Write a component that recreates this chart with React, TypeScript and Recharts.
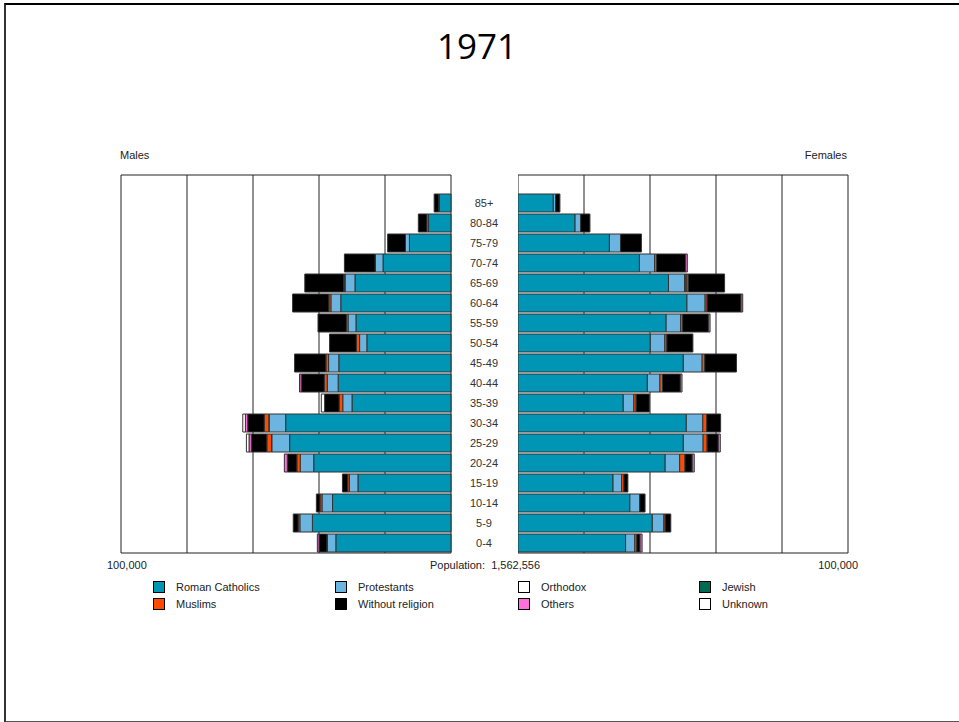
import React from 'react'
import { BarChart, Bar, XAxis, YAxis, CartesianGrid } from 'recharts'

const ages = ['85+', '80-84', '75-79', '70-74', '65-69', '60-64', '55-59', '50-54', '45-49', '40-44', '35-39', '30-34', '25-29', '20-24', '15-19', '10-14', '5-9', '0-4']

// values in thousands
const maleCatholics = [3.5, 6.8, 12.6, 20.6, 29.1, 33.4, 28.8, 25.5, 34.0, 34.2, 30.0, 50.1, 48.9, 41.6, 28.2, 35.9, 42.0, 34.9]
const maleProtestants = [0.2, 0.5, 1.2, 2.3, 3.0, 3.0, 2.4, 2.2, 3.1, 3.3, 2.8, 5.0, 5.4, 4.1, 2.6, 3.2, 3.8, 2.6]
const maleOrthodox = [0, 0, 0, 0, 0, 0, 0, 0, 0, 0, 0, 0.1, 0.1, 0, 0, 0, 0, 0]
const maleJewish = [0, 0, 0, 0, 0.3, 0, 0, 0, 0, 0, 0, 0, 0, 0, 0, 0, 0, 0]
const maleMuslims = [0, 0, 0, 0.1, 0.1, 0.6, 0.5, 1.0, 0.8, 0.9, 1.1, 1.4, 1.4, 1.0, 0.5, 0.6, 0.5, 0.1]
const maleWithout = [1.4, 2.6, 5.4, 9.3, 11.8, 11.0, 8.6, 8.1, 9.5, 7.0, 4.4, 5.0, 4.7, 2.9, 1.6, 1.1, 1.5, 2.4]
const maleOthers = [0, 0, 0, 0, 0, 0, 0, 0, 0, 0.5, 0, 0.7, 0.7, 0.9, 0, 0, 0, 0.5]
const maleUnknown = [0, 0, 0, 0, 0, 0, 0, 0, 0, 0, 1.0, 0.8, 0.8, 0, 0, 0, 0, 0]

const femaleCatholics = [10.7, 17.3, 27.7, 36.8, 45.6, 51.2, 44.9, 40.1, 50.1, 39.2, 31.9, 51.0, 50.1, 44.6, 28.8, 33.9, 40.7, 32.6]
const femaleProtestants = [0.7, 1.7, 3.4, 4.6, 4.9, 5.5, 4.4, 4.4, 5.7, 3.8, 3.2, 5.0, 6.0, 4.4, 2.6, 3.0, 3.5, 2.8]
const femaleOrthodox = [0, 0, 0, 0, 0, 0, 0, 0, 0, 0, 0, 0, 0, 0, 0, 0, 0, 0]
const femaleJewish = [0, 0, 0, 0, 0.5, 0, 0, 0, 0, 0, 0, 0, 0, 0, 0, 0, 0, 0]
const femaleMuslims = [0, 0, 0, 0.6, 0.6, 0.6, 0.6, 0.6, 0.8, 0.8, 0.7, 1.2, 1.2, 1.6, 0.7, 0, 0.4, 0.6]
const femaleWithout = [1.3, 2.8, 6.3, 8.8, 11.0, 10.3, 7.8, 7.9, 9.6, 5.4, 4.0, 4.2, 3.4, 2.2, 1.2, 1.6, 1.7, 1.0]
const femaleOthers = [0, 0, 0, 0.5, 0, 0.5, 0.5, 0, 0, 0.5, 0, 0, 0.6, 0.6, 0, 0, 0, 0.6]
const femaleUnknown = [0, 0, 0, 0, 0, 0, 0, 0, 0, 0, 0, 0, 0, 0, 0, 0, 0, 0]

const gridTicks = [0, 20000, 40000, 60000, 80000, 100000]

const series = [
  { key: 'catholics', name: 'Roman Catholics', color: '#0094b5' },
  { key: 'protestants', name: 'Protestants', color: '#6bb5e0' },
  { key: 'orthodox', name: 'Orthodox', color: '#ffffff' },
  { key: 'jewish', name: 'Jewish', color: '#006b50' },
  { key: 'muslims', name: 'Muslims', color: '#ff4a00' },
  { key: 'without', name: 'Without religion', color: '#000000' },
  { key: 'others', name: 'Others', color: '#ff70d8' },
  { key: 'unknown', name: 'Unknown', color: '#ffffff' },
]

const k = (v: number) => v * 1000

const males = ages.map((age, i) => ({
  age,
  catholics: k(maleCatholics[i]),
  protestants: k(maleProtestants[i]),
  orthodox: k(maleOrthodox[i]),
  jewish: k(maleJewish[i]),
  muslims: k(maleMuslims[i]),
  without: k(maleWithout[i]),
  others: k(maleOthers[i]),
  unknown: k(maleUnknown[i]),
}))

const females = ages.map((age, i) => ({
  age,
  catholics: k(femaleCatholics[i]),
  protestants: k(femaleProtestants[i]),
  orthodox: k(femaleOrthodox[i]),
  jewish: k(femaleJewish[i]),
  muslims: k(femaleMuslims[i]),
  without: k(femaleWithout[i]),
  others: k(femaleOthers[i]),
  unknown: k(femaleUnknown[i]),
}))

const small = { fontFamily: '"Liberation Sans", Arial, sans-serif', fontSize: 11, color: '#222' }

function AgeTick({ x, y, payload }: any) {
  return (
    <text x={x + 33} y={y} dy={4} textAnchor="middle" fontSize={11} fill="#333" fontFamily='"Liberation Sans", Arial, sans-serif'>
      {payload.value}
    </text>
  )
}

const NoTick = () => <g />

function Pyramid({ data, side }: { data: any[]; side: 'left' | 'right' }) {
  const left = side === 'left'
  return (
    <BarChart
      width={left ? 398 : 331}
      height={380}
      data={data}
      layout="vertical"
      barCategoryGap={1}
      margin={{ top: 1, right: left ? 0 : 1, bottom: 1, left: left ? 1 : 0 }}
    >
      <CartesianGrid
        stroke="#222"
        strokeWidth={1}
        horizontalCoordinatesGenerator={({ offset }: any) => [offset.top, offset.top + offset.height]}
      />
      <XAxis
        type="number"
        domain={[0, 100000]}
        ticks={gridTicks}
        interval={0}
        reversed={left}
        height={0}
        axisLine={false}
        tickLine={false}
        tick={<NoTick />}
      />
      <YAxis
        type="category"
        dataKey="age"
        orientation="right"
        width={left ? 67 : 0}
        hide={!left}
        padding={{ top: 18, bottom: 0 }}
        axisLine={false}
        tickLine={false}
        tickSize={0}
        tickMargin={0}
        interval={0}
        tick={<AgeTick />}
      />
      {series.map(s => (
        <Bar
          key={s.key}
          dataKey={s.key}
          name={s.name}
          stackId="a"
          fill={s.color}
          stroke="#333"
          strokeWidth={1}
          isAnimationActive={false}
        />
      ))}
    </BarChart>
  )
}

export default function App() {
  const legendCols = [153, 335, 518, 699]
  return (
    <div style={{ position: 'absolute', left: 0, top: 0, width: 959, height: 722, background: '#fff', overflow: 'hidden' }}>
      <div style={{ position: 'absolute', left: 4, top: 3, width: 970, height: 716, borderTop: '2px solid #000', borderLeft: '2px solid #333', borderBottom: '2px solid #555' }} />
      <div style={{ position: 'absolute', left: 0, width: 954, top: 22, textAlign: 'center', fontFamily: '"Open Sans", sans-serif', fontSize: 35, color: '#000' }}>
        1971
      </div>
      <div style={{ ...small, position: 'absolute', left: 120, top: 149 }}>Males</div>
      <div style={{ ...small, position: 'absolute', right: 959 - 847, top: 149 }}>Females</div>

      <div style={{ position: 'absolute', left: 120, top: 174 }}>
        <Pyramid data={males} side="left" />
      </div>
      <div style={{ position: 'absolute', left: 518, top: 174 }}>
        <Pyramid data={females} side="right" />
      </div>

      <div style={{ ...small, position: 'absolute', left: 107, top: 559 }}>100,000</div>
      <div style={{ ...small, position: 'absolute', left: 430, top: 559 }}>Population:&nbsp; 1,562,556</div>
      <div style={{ ...small, position: 'absolute', right: 959 - 858, top: 559 }}>100,000</div>

      {series.map((s, i) => {
        const col = i % 4
        const row = Math.floor(i / 4)
        return (
          <div key={s.key} style={{ ...small, position: 'absolute', left: legendCols[col], top: 581 + row * 17, display: 'flex', alignItems: 'center' }}>
            <span style={{ display: 'inline-block', width: 10, height: 10, background: s.color, border: '1px solid #000', marginRight: 11 }} />
            <span>{s.name}</span>
          </div>
        )
      })}
    </div>
  )
}
